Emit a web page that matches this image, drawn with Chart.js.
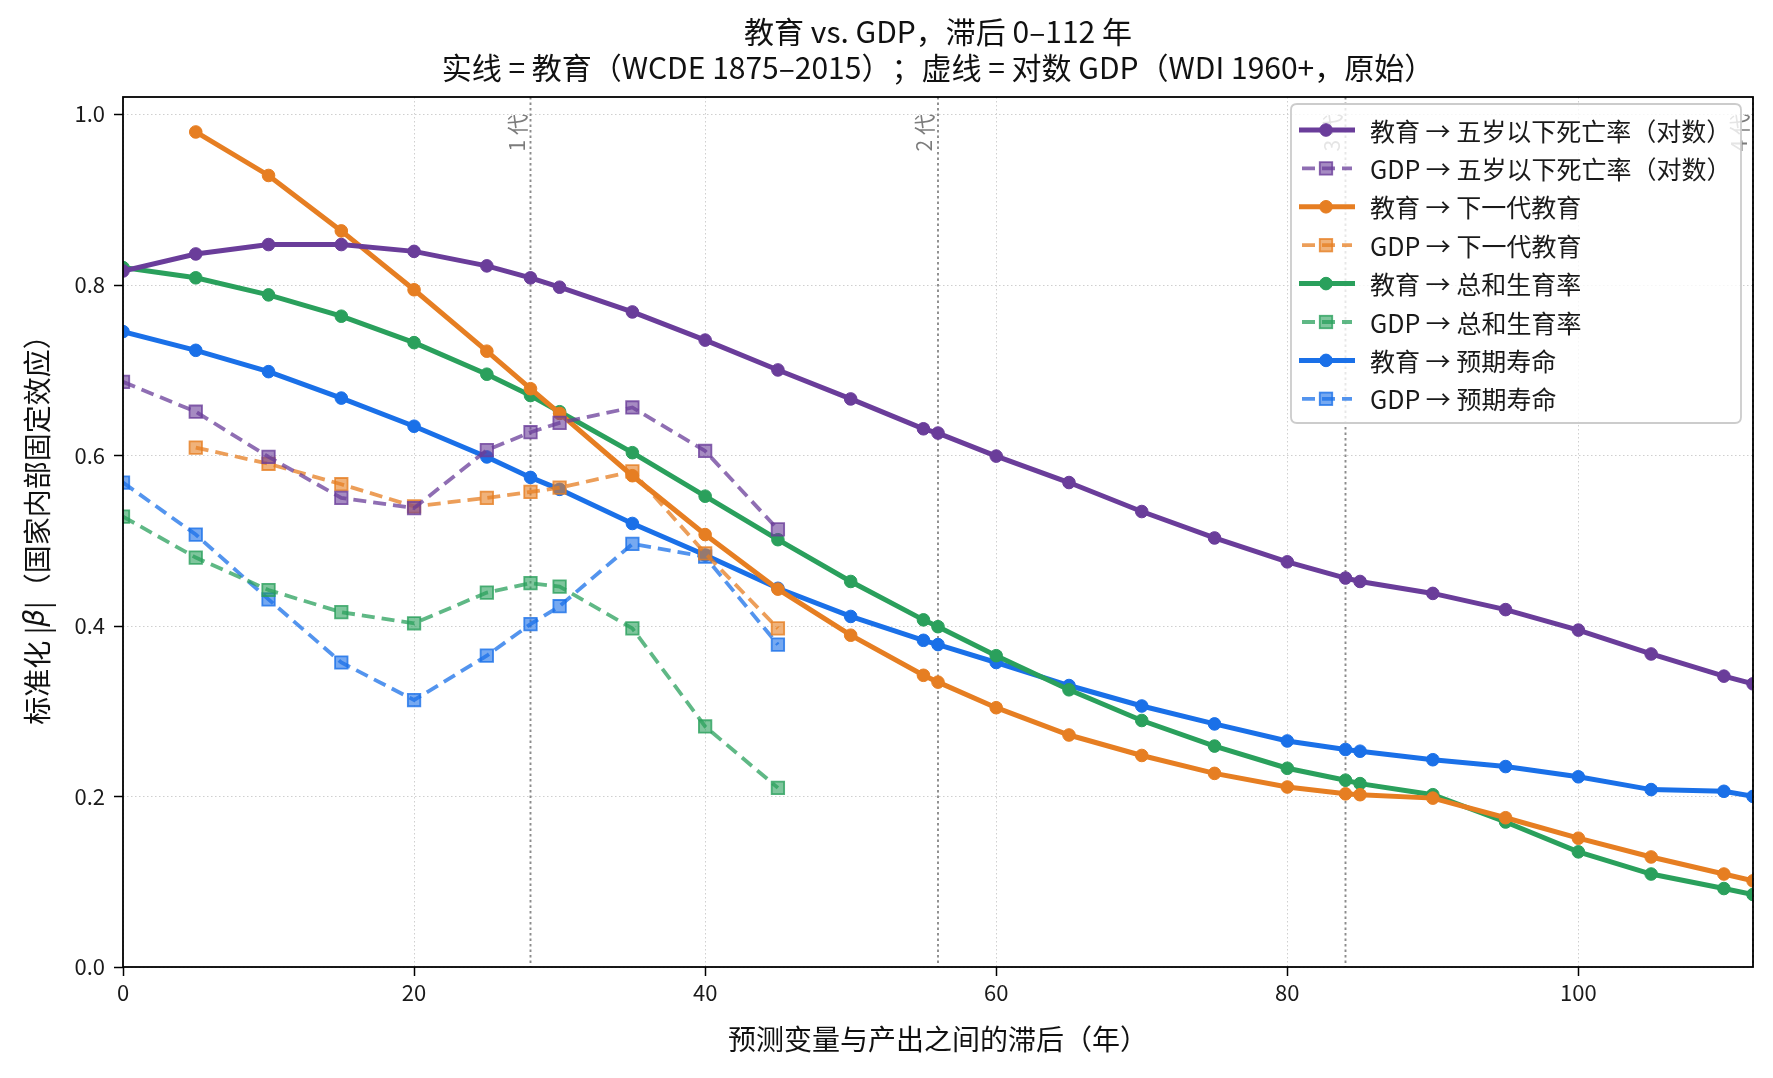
<!DOCTYPE html>
<html><head><meta charset="utf-8">
<script src="https://cdn.jsdelivr.net/npm/chart.js@4/dist/chart.umd.min.js"></script>
<style>html,body{margin:0;padding:0;background:#fff;}#wrap{width:1773px;height:1078px;}</style>
</head><body><div id="wrap"><canvas id="c" width="1773" height="1078"></canvas></div>
<script>
const lagsEdu = [0,5,10,15,20,25,28,30,35,40,45,50,55,56,60,65,70,75,80,84,85,90,95,100,105,110,112];
const lagsGdp = [0,5,10,15,20,25,28,30,35,40,45];
const eduU5 = [0.816,0.836,0.847,0.847,0.839,0.822,0.808,0.797,0.768,0.735,0.700,0.666,0.631,0.626,0.599,0.568,0.534,0.503,0.475,0.456,0.452,0.438,0.419,0.395,0.367,0.341,0.332];
const eduNextEdu = [null,0.979,0.928,0.863,0.794,0.722,0.678,0.649,0.576,0.507,0.443,0.389,0.342,0.334,0.304,0.272,0.248,0.227,0.211,0.203,0.202,0.198,0.175,0.151,0.129,0.109,0.101];
const eduTfr = [0.820,0.808,0.788,0.763,0.732,0.695,0.670,0.651,0.603,0.552,0.501,0.452,0.407,0.399,0.365,0.325,0.289,0.259,0.233,0.219,0.215,0.202,0.170,0.135,0.109,0.092,0.085];
const eduLe = [0.745,0.723,0.698,0.667,0.634,0.598,0.574,0.560,0.520,0.483,0.444,0.411,0.383,0.378,0.357,0.330,0.306,0.285,0.265,0.255,0.253,0.243,0.235,0.223,0.208,0.206,0.200];
const gdpU5 = [0.686,0.651,0.598,0.550,0.538,0.606,0.627,0.638,0.656,0.605,0.513];
const gdpNextEdu = [null,0.609,0.590,0.566,0.540,0.550,0.557,0.562,0.581,0.485,0.397];
const gdpTfr = [0.528,0.480,0.442,0.416,0.403,0.439,0.450,0.446,0.397,0.282,0.210];
const gdpLe = [0.568,0.507,0.431,0.357,0.313,0.365,0.402,0.423,0.496,0.481,0.378];
const seriesLabels = ['教育 → 五岁以下死亡率（对数）','GDP → 五岁以下死亡率（对数）','教育 → 下一代教育','GDP → 下一代教育','教育 → 总和生育率','GDP → 总和生育率','教育 → 预期寿命','GDP → 预期寿命'];
const xTicks = [0,20,40,60,80,100];
const yTicks = [0.0,0.2,0.4,0.6,0.8,1.0];
const generations = [28,56,84,112];
const genLabels = ['1 代','2 代','3 代','4 代'];
const titleLines = ['教育 vs. GDP，滞后 0–112 年','实线 = 教育（WCDE 1875–2015）；虚线 = 对数 GDP（WDI 1960+，原始）'];
const xTitle = '预测变量与产出之间的滞后（年）';
const yTitleParts = ['标准化 |','β','|（国家内部固定效应）'];

const FONT = '"Noto Sans CJK SC","Noto Sans",sans-serif';
const C = {purple:[106,61,154], orange:[230,126,34], green:[42,160,92], blue:[26,112,232]};
const rgba = (c,a)=>`rgba(${c[0]},${c[1]},${c[2]},${a})`;
const pts = (xs, ys)=> xs.map((x,i)=>({x:x, y:ys[i]}));
const DASH = [13,7];

function solid(label, xs, ys, col){
  return {label, data:pts(xs,ys), borderColor:rgba(col,1), backgroundColor:rgba(col,1),
    borderWidth:5, pointStyle:'circle', pointRadius:6.3, pointBorderWidth:1, pointBorderColor:rgba(col,1),
    tension:0, clip:0, _dashed:false};
}
function dashed(label, xs, ys, col){
  return {label, data:pts(xs,ys), borderColor:rgba(col,0.75), backgroundColor:rgba(col,0.6),
    borderWidth:3.8, borderDash:DASH, pointStyle:'rect', pointRadius:8.8, pointBorderWidth:1.8, pointBorderColor:rgba(col,0.8),
    tension:0, clip:0, _dashed:true};
}

const datasets = [
  solid(seriesLabels[0], lagsEdu, eduU5, C.purple),
  dashed(seriesLabels[1], lagsGdp, gdpU5, C.purple),
  solid(seriesLabels[2], lagsEdu, eduNextEdu, C.orange),
  dashed(seriesLabels[3], lagsGdp, gdpNextEdu, C.orange),
  solid(seriesLabels[4], lagsEdu, eduTfr, C.green),
  dashed(seriesLabels[5], lagsGdp, gdpTfr, C.green),
  solid(seriesLabels[6], lagsEdu, eduLe, C.blue),
  dashed(seriesLabels[7], lagsGdp, gdpLe, C.blue),
];

const decor = {
  id:'decor',
  beforeDatasetsDraw(chart){
    const {ctx, chartArea:a, scales:{x,y}} = chart;
    ctx.save();
    ctx.lineWidth = 1; ctx.strokeStyle = '#cfcfcf'; ctx.setLineDash([1.5,2.5]);
    xTicks.forEach(v=>{const px=Math.round(x.getPixelForValue(v))+0.5; ctx.beginPath(); ctx.moveTo(px,a.top); ctx.lineTo(px,a.bottom); ctx.stroke();});
    yTicks.forEach(v=>{const py=Math.round(y.getPixelForValue(v))+0.5; ctx.beginPath(); ctx.moveTo(a.left,py); ctx.lineTo(a.right,py); ctx.stroke();});
    ctx.lineWidth = 1.9; ctx.strokeStyle = 'rgba(120,120,120,0.85)'; ctx.setLineDash([2.5,3]);
    generations.forEach(v=>{const px=x.getPixelForValue(v); ctx.beginPath(); ctx.moveTo(px,a.top); ctx.lineTo(px,a.bottom); ctx.stroke();});
    ctx.setLineDash([]);
    ctx.fillStyle = 'rgba(110,110,110,0.9)'; ctx.font = '21px '+FONT;
    generations.forEach((v,i)=>{
      const px=x.getPixelForValue(v);
      ctx.save(); ctx.translate(px-3, y.getPixelForValue(1.0)); ctx.rotate(-Math.PI/2);
      ctx.textAlign='right'; ctx.textBaseline='bottom'; ctx.fillText(genLabels[i],0,0); ctx.restore();
    });
    ctx.restore();
  },
  afterDatasetsDraw(chart){
    const {ctx, chartArea:a, scales:{x,y}} = chart;
    ctx.save();
    ctx.strokeStyle='#000'; ctx.lineWidth=1.8; ctx.setLineDash([]);
    ctx.strokeRect(a.left, a.top, a.right-a.left, a.bottom-a.top);
    ctx.lineWidth=1.5;
    xTicks.forEach(v=>{const px=Math.round(x.getPixelForValue(v))+0.5; ctx.beginPath(); ctx.moveTo(px,a.bottom); ctx.lineTo(px,a.bottom+9); ctx.stroke();});
    yTicks.forEach(v=>{const py=Math.round(y.getPixelForValue(v))+0.5; ctx.beginPath(); ctx.moveTo(a.left,py); ctx.lineTo(a.left-9,py); ctx.stroke();});
    // legend
    const lx=1291, ly=104, lw=450, lh=319, r=6;
    ctx.beginPath();
    ctx.moveTo(lx+r,ly); ctx.lineTo(lx+lw-r,ly); ctx.quadraticCurveTo(lx+lw,ly,lx+lw,ly+r);
    ctx.lineTo(lx+lw,ly+lh-r); ctx.quadraticCurveTo(lx+lw,ly+lh,lx+lw-r,ly+lh);
    ctx.lineTo(lx+r,ly+lh); ctx.quadraticCurveTo(lx,ly+lh,lx,ly+lh-r);
    ctx.lineTo(lx,ly+r); ctx.quadraticCurveTo(lx,ly,lx+r,ly); ctx.closePath();
    ctx.fillStyle='rgba(255,255,255,0.8)'; ctx.fill();
    ctx.strokeStyle='#cccccc'; ctx.lineWidth=1.8; ctx.stroke();
    chart.data.datasets.forEach((ds,i)=>{
      const cy = ly+26+i*38.4;
      ctx.strokeStyle=ds.borderColor; ctx.lineWidth=ds.borderWidth; ctx.setLineDash(ds._dashed?DASH:[]);
      ctx.beginPath(); ctx.moveTo(ds._dashed?1302:1299,cy); ctx.lineTo(ds._dashed?1352:1355,cy); ctx.stroke(); ctx.setLineDash([]);
      ctx.fillStyle=ds.backgroundColor; ctx.strokeStyle=ds.pointBorderColor; ctx.lineWidth=ds.pointBorderWidth;
      if(ds._dashed){const s=ds.pointRadius*Math.SQRT1_2; ctx.fillRect(1326-s,cy-s,2*s,2*s); ctx.strokeRect(1326-s,cy-s,2*s,2*s);}
      else {ctx.beginPath(); ctx.arc(1326,cy,ds.pointRadius,0,Math.PI*2); ctx.fill(); ctx.stroke();}
      ctx.fillStyle='#1a1a1a'; ctx.font='25px '+FONT; ctx.textAlign='left'; ctx.textBaseline='middle';
      ctx.fillText(ds.label,1370,cy+1);
    });
    ctx.restore();
  },
  afterDraw(chart){
    const {ctx, chartArea:a} = chart;
    ctx.save();
    ctx.fillStyle='#111'; ctx.textAlign='center'; ctx.textBaseline='middle';
    ctx.font='30px '+FONT;
    ctx.fillText(titleLines[0], 938, 32);
    ctx.fillText(titleLines[1], 938, 68);
    ctx.font='28px '+FONT;
    ctx.fillText(xTitle, (a.left+a.right)/2, 1039);
    ctx.save(); ctx.translate(37, (a.top+a.bottom)/2 - 9); ctx.rotate(-Math.PI/2);
    const fonts=['28px '+FONT,'italic 28px "DejaVu Sans",sans-serif','28px '+FONT];
    let widths=yTitleParts.map((p,i)=>{ctx.font=fonts[i]; return ctx.measureText(p).width;});
    let total=widths.reduce((s,w)=>s+w,0); let cx=-total/2;
    ctx.textAlign='left';
    yTitleParts.forEach((p,i)=>{ctx.font=fonts[i]; ctx.fillText(p,cx,0); cx+=widths[i];});
    ctx.restore();
    ctx.restore();
  }
};

new Chart(document.getElementById('c'), {
  type:'line',
  data:{datasets},
  options:{
    responsive:false, animation:false, devicePixelRatio:1,
    layout:{padding:{left:0,right:20,top:97,bottom:0}},
    plugins:{legend:{display:false}, title:{display:false}, tooltip:{enabled:false}},
    elements:{line:{borderCapStyle:'butt'}},
    scales:{
      x:{type:'linear', min:0, max:112,
        grid:{display:false, drawTicks:false}, border:{display:false},
        ticks:{font:{size:22,family:FONT}, color:'#1a1a1a', padding:12, maxRotation:0},
        afterBuildTicks(s){s.ticks = xTicks.map(v=>({value:v}));},
        afterFit(s){s.height = 111;}
      },
      y:{type:'linear', min:0, max:1.02,
        grid:{display:false, drawTicks:false}, border:{display:false},
        ticks:{font:{size:22,family:FONT}, color:'#1a1a1a', padding:18, callback:(v)=>Number(v).toFixed(1)},
        afterBuildTicks(s){s.ticks = yTicks.map(v=>({value:v}));},
        afterFit(s){s.width = 123;}
      }
    }
  },
  plugins:[decor]
});
</script></body></html>
